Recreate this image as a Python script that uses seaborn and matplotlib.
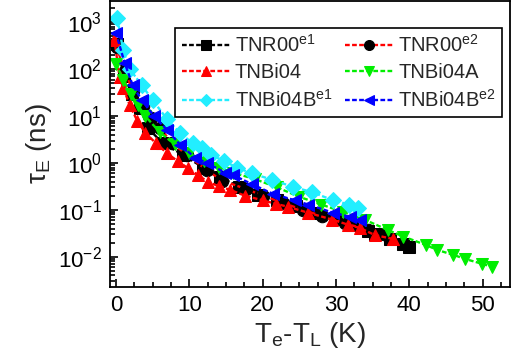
import numpy as np
import matplotlib
matplotlib.use("Agg")
import matplotlib.pyplot as plt
from matplotlib.ticker import MultipleLocator, LogLocator, NullFormatter
import seaborn as sns

# tau_E vs Te-TL
x_e1 = [0.1, 1.1, 2.2, 3.3, 4.4, 6.3, 9.1, 11.9, 14.2, 16.8, 19.4, 22.0, 24.6, 27.2, 29.8, 32.2, 34.4, 35.3, 37.4, 39.2, 40.0]
y_e1 = [350, 70, 30, 15, 5.5, 2.7, 1.5, 0.8, 0.5, 0.31, 0.21, 0.16, 0.12, 0.085, 0.065, 0.048, 0.036, 0.03, 0.024, 0.019, 0.016]

x_e2 = [0.1, 1.2, 2.3, 3.7, 4.8, 6.0, 7.7, 9.7, 12.4, 14.5, 17.7, 20.1, 22.8, 25.5, 28.1, 31.2, 34.4, 36.5]
y_e2 = [300, 90, 35, 16, 9, 5.6, 2.6, 1.5, 0.7, 0.42, 0.28, 0.2, 0.14, 0.1, 0.074, 0.052, 0.037, 0.03]

x_bi04 = [-0.2, 0.5, 1.0, 1.9, 2.9, 4.0, 5.5, 7.0, 8.4, 9.8, 11.2, 12.5, 14.0, 15.5, 17.6, 20.0, 21.8, 23.5, 26.2, 29.5, 31.7, 33.3, 35.3, 37.8]
y_bi04 = [420, 68, 40, 17, 8, 4.4, 2.6, 1.6, 1.1, 0.78, 0.55, 0.4, 0.32, 0.27, 0.2, 0.16, 0.135, 0.116, 0.087, 0.062, 0.048, 0.041, 0.029, 0.024]

x_bi04a = [0.0, 1.0, 2.0, 3.0, 4.0, 6.0, 8.0, 10.0, 12.0, 14.0, 16.0, 19.0, 22.0, 25.0, 28.0, 31.0, 34.0, 37.1, 39.2, 42.2, 43.8, 46.0, 47.6, 49.9, 51.3]
y_bi04a = [130, 60, 30, 17, 10, 4.5, 2.5, 1.6, 1.1, 0.8, 0.62, 0.45, 0.3, 0.19, 0.13, 0.09, 0.061, 0.037, 0.027, 0.018, 0.014, 0.011, 0.009, 0.0071, 0.0061]

x_bi04b1 = [0.2, 1.0, 1.9, 3.5, 5.0, 7.0, 8.7, 10.5, 11.7, 13.0, 14.7, 16.5, 18.5, 21.3, 24.1, 26.7, 29.6, 31.8, 33.0]
y_bi04b1 = [1200, 250, 100, 46, 22, 8.5, 4.4, 2.6, 2.1, 1.5, 1.1, 0.8, 0.6, 0.44, 0.31, 0.24, 0.16, 0.13, 0.11]

x_bi04b2 = [0.0, 1.2, 2.3, 3.5, 5.2, 7.0, 8.8, 10.8, 12.4, 14.9, 16.0, 18.6, 21.4, 24.4, 26.2, 29.6, 31.9, 33.3]
y_bi04b2 = [600, 135, 45, 22, 10, 5, 2.4, 1.3, 1.0, 0.62, 0.55, 0.35, 0.22, 0.16, 0.13, 0.087, 0.071, 0.061]

labels = [r"TNR00$^{\rm e1}$", r"TNR00$^{\rm e2}$", "TNBi04", "TNBi04A",
          r"TNBi04B$^{\rm e1}$", r"TNBi04B$^{\rm e2}$"]

sns.set_style("ticks")
plt.rcParams["font.family"] = ["Liberation Sans", "DejaVu Sans"]
plt.rcParams["mathtext.fontset"] = "custom"
plt.rcParams["mathtext.rm"] = "Liberation Sans"
plt.rcParams["mathtext.it"] = "Liberation Sans:italic"

fig = plt.figure(figsize=(5.14, 3.64), dpi=100)
ax = fig.add_axes([0.214, 0.212, 0.778, 0.785])

series = [
    (x_e1, y_e1, "black", "black", "s"),
    (x_e2, y_e2, "red", "black", "o"),
    (x_bi04, y_bi04, "red", "red", "^"),
    (x_bi04a, y_bi04a, "#00EE00", "#00EE00", "v"),
    (x_bi04b1, y_bi04b1, "#22EEFF", "#22EEFF", "D"),
    (x_bi04b2, y_bi04b2, "blue", "blue", "<"),
]
for (xs, ys, lc, mc, mk), lab in zip(series, labels):
    sns.lineplot(x=xs, y=ys, ax=ax, sort=False, estimator=None, color=lc,
                 linestyle=(0, (2, 1)), linewidth=1.7, marker=mk,
                 markersize=9 if mk != "D" else 8, markerfacecolor=mc,
                 markeredgecolor=mc, label=lab)

ax.set_yscale("log")
ax.set_xlim(-0.8, 53.7)
ax.set_ylim(10 ** -2.64, 10 ** 3.45)
ax.xaxis.set_major_locator(MultipleLocator(10))
ax.xaxis.set_minor_locator(MultipleLocator(2.5))
ax.yaxis.set_major_locator(LogLocator(base=10, numticks=10))
ax.yaxis.set_minor_locator(LogLocator(base=10, subs=np.arange(2, 10), numticks=20))
ax.yaxis.set_minor_formatter(NullFormatter())

ax.tick_params(which="both", direction="in", top=False, right=False, width=1.2,
               colors="black", labelsize=16)
ax.tick_params(which="major", length=6, pad=6)
ax.tick_params(which="minor", length=3.5)
for sp in ax.spines.values():
    sp.set_linewidth(1.3)
    sp.set_color("black")

ax.set_xlabel(r"T$_{\rm e}$-T$_{\rm L}$ (K)", fontsize=20, labelpad=3)
ax.set_ylabel(r"τ$_{\rm E}$ (ns)", fontsize=20, labelpad=3)

# legend filled row by row like the reference
handles, labs = ax.get_legend_handles_labels()
order = [0, 2, 4, 1, 3, 5]
leg = ax.legend([handles[i] for i in order], [labs[i] for i in order],
                loc="upper right", bbox_to_anchor=(0.98, 0.905), ncol=2,
                fontsize=14.5, numpoints=1, handlelength=2.4, handletextpad=0.25,
                columnspacing=0.6, labelspacing=0.35, borderpad=0.3,
                borderaxespad=0, fancybox=False, framealpha=1, markerscale=0.8)
leg.get_frame().set_edgecolor("black")
leg.get_frame().set_linewidth(1.2)

fig.savefig("out.png", dpi=100)
